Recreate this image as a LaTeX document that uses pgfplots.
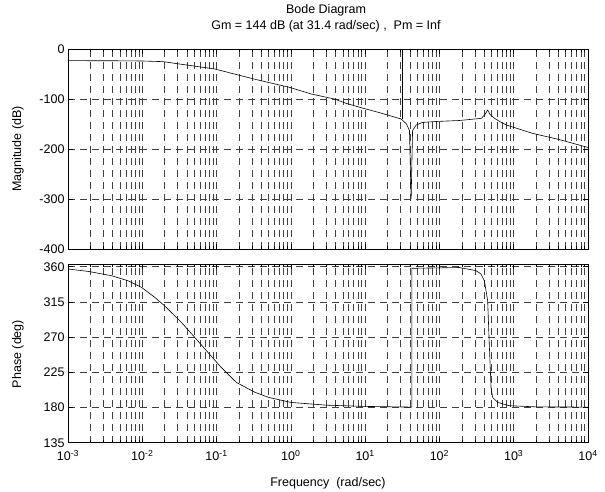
\documentclass[border=0pt]{standalone}
\usepackage{fontspec}
\setmainfont{Liberation Sans}
\usepackage{pgfplots}
\pgfplotsset{compat=1.18}

\newcommand{\lbl}{\fontsize{12.5}{14}\selectfont}

\pgfplotsset{
  bode/.style={
    scale only axis,
    width=520pt,
    xmin=1e-3, xmax=1e4,
    xtick={1e-3,1e-2,1e-1,1,1e1,1e2,1e3,1e4},
    xmajorgrids=true, xminorgrids=true, ymajorgrids=true,
    grid style={black!75, line width=0.5pt, dash pattern=on 7pt off 5pt},
    minor grid style={black!75, line width=0.5pt, dash pattern=on 7pt off 5pt},
    tick align=inside,
    major tick length=5pt,
    minor tick length=3pt,
    tick style={black, line width=0.5pt},
    axis line style={black, line width=0.7pt},
    ticklabel style={font=\lbl},
    xticklabel style={yshift=-4pt},
    cycle list={{black, line width=0.6pt, mark=none}},
  }
}

\begin{document}
\begin{tikzpicture}
\path[use as bounding box] (0,0) rectangle (605pt,492pt);

% magnitude
\begin{semilogxaxis}[bode,
  at={(68pt,243pt)}, anchor=south west,
  height=200pt,
  ymin=-400, ymax=0,
  ytick={-400,-300,-200,-100,0},
  yticklabels={-400,-300,-200,-100,0},
  xticklabels={},
]
\addplot[black, line width=0.6pt, mark=none] coordinates {
  (0.001,-23.3) (0.0046,-23.6) (0.01,-24) (0.019,-25.3) (0.0946,-40)
  (0.294,-58.7) (0.361,-62) (0.96,-76.7) (1.88,-90) (3.87,-100)
  (5.55,-108.7) (9.5,-118.7) (15.6,-127.3) (30.5,-140) (36,-150)
  (39.5,-163) (41.6,-300) (43.5,-163) (48.6,-152) (59.7,-146.7)
  (90.4,-145) (186,-143) (367,-138.7) (410,-131) (446,-122)
  (480,-131) (552,-138.7) (649,-145) (794,-152) (1791,-168.7)
  (4074,-181) (10000,-197)
};
\addplot[black, line width=0.6pt, mark=none] coordinates {(31.4,0) (31.4,-141)};
\end{semilogxaxis}

% phase
\begin{semilogxaxis}[bode,
  at={(68pt,49.3pt)}, anchor=south west,
  height=178.7pt,
  ymin=135, ymax=363.5,
  ytick={135,180,225,270,315,360},
  xticklabels={10\textsuperscript{-3},10\textsuperscript{-2},10\textsuperscript{-1},10\textsuperscript{0},10\textsuperscript{1},10\textsuperscript{2},10\textsuperscript{3},10\textsuperscript{4}},
  /pgf/number format/assume math mode=true,
]
\addplot[black, line width=0.6pt, mark=none] coordinates {
  (0.001,357.1) (0.00188,354) (0.00387,348.5) (0.00646,342) (0.0098,333.5)
  (0.01475,320.8) (0.02,310) (0.0337,288.8) (0.0509,269.6) (0.0766,250.4)
  (0.1155,231.3) (0.185,212) (0.326,199.6) (0.5,193) (1,186.5) (3,183)
  (10,181.4) (42.5,180.5) (42.5,358) (186,359) (311,355) (363,350.6)
  (403,342) (446,316.5) (469,261) (495,205.7) (520,193) (608,186.5)
  (873,182.3) (2000,180.8) (10000,180.5)
};
\end{semilogxaxis}

\node[font=\lbl] at (326pt,482pt) {Bode Diagram};
\node[font=\lbl] at (326pt,466pt) {Gm = 144 dB (at 31.4 rad/sec) ,\ \ Pm = Inf};
\node[font=\lbl, rotate=90] at (18pt,343pt) {Magnitude (dB)};
\node[font=\lbl, rotate=90] at (18pt,138pt) {Phase (deg)};
\node[font=\lbl] at (328pt,9pt) {Frequency\ \ (rad/sec)};
\end{tikzpicture}
\end{document}
